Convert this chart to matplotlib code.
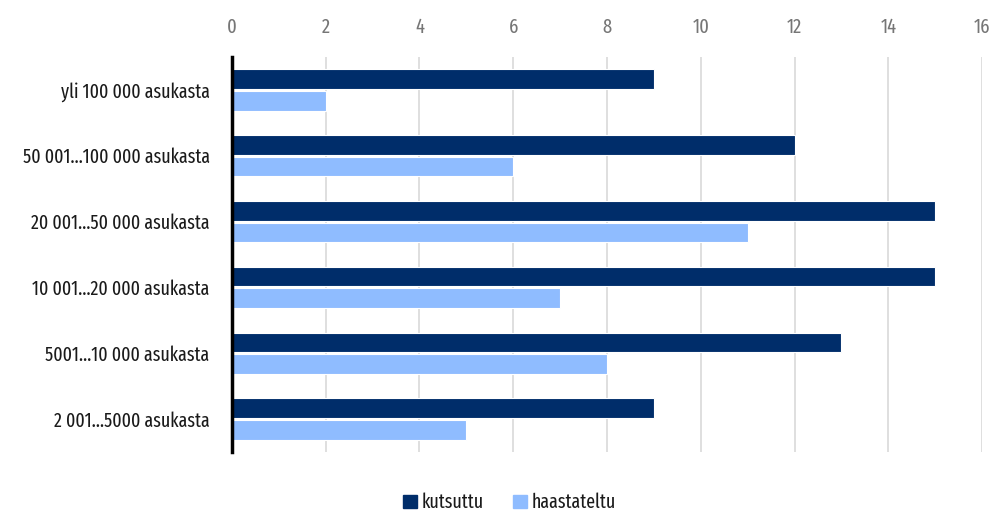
import matplotlib
matplotlib.use("Agg")
import matplotlib.pyplot as plt
import numpy as np
from matplotlib.patches import Patch

categories = ["yli 100 000 asukasta", "50 001…100 000 asukasta", "20 001…50 000 asukasta",
              "10 001…20 000 asukasta", "5001…10 000 asukasta", "2 001…5000 asukasta"]
kutsuttu = [9, 12, 15, 15, 13, 9]
haastateltu = [2, 6, 11, 7, 8, 5]
xticks = [0, 2, 4, 6, 8, 10, 12, 14, 16]

plt.rcParams['font.family'] = ['Fira Sans Extra Condensed', 'DejaVu Sans']

fig = plt.figure(figsize=(9.93, 5.12), dpi=100)
ax = fig.add_axes([0.2336, 0.117, 0.989 - 0.2336, 0.772])

y = np.arange(len(categories))
h = 0.30
dark = "#002d6a"
light = "#8fbcff"
ax.barh(y - 0.165, kutsuttu, height=h, color=dark, edgecolor="white", linewidth=0.8, zorder=3)
ax.barh(y + 0.165, haastateltu, height=h, color=light, edgecolor="white", linewidth=0.8, zorder=3)

ax.set_ylim(len(categories) - 0.5, -0.5)
ax.set_xlim(0, 16)
ax.set_yticks(y)
ax.set_yticklabels(categories, fontsize=14, color="#1a1a1a")
ax.set_xticks(xticks)
ax.set_xticklabels([str(t) for t in xticks], fontsize=14.5, color="#767676")
ax.xaxis.tick_top()
ax.tick_params(axis="x", length=0, pad=14)
ax.tick_params(axis="y", length=0, pad=16)
ax.grid(axis="x", color="#d9d9d9", linewidth=1.2, zorder=0)
for s in ["top", "right", "bottom"]:
    ax.spines[s].set_visible(False)
ax.spines["left"].set_color("black")
ax.spines["left"].set_linewidth(2.5)
ax.spines["left"].set_zorder(4)

handles = [Patch(color=dark, label="kutsuttu"), Patch(color=light, label="haastateltu")]
fig.legend(handles=handles, loc="lower center", bbox_to_anchor=(0.513, -0.035), ncol=2,
           frameon=False, fontsize=14, handlelength=0.7, handleheight=0.7,
           handletextpad=0.25, columnspacing=1.5, labelcolor="#1a1a1a")

fig.savefig("out.png", dpi=100, facecolor="white")
